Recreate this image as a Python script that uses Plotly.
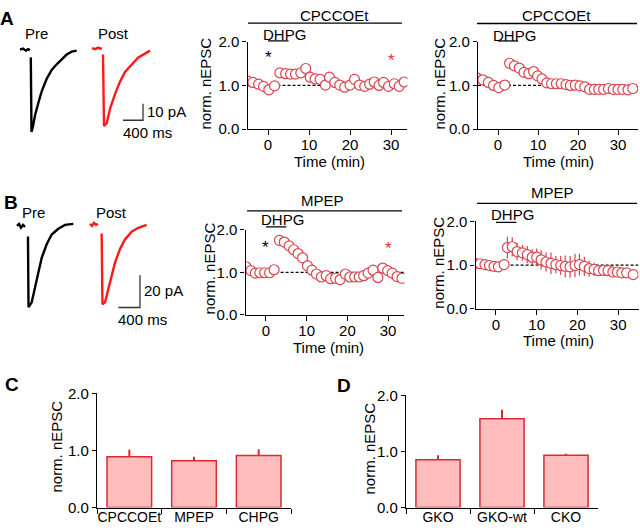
import plotly.graph_objects as go

W, H = 640, 532
def px(x): return x / W
def py(y): return 1 - y / H

FONT = "Arial"
FS = 15
RED_C = "#D9444E"
RED_T = "#FF1A1A"
RED_B = "#DC2A30"
FILL_B = "#FFBDBD"

# ---------------- data ----------------
# Example EPSC traces (time in ms, current in pA); None separates baseline from response
a_pre_t = [0, 60, 120, 160, 200, None, 216, 230, 260, 300, 366, 434, 534, 634, 734, 834, 934, 1034, 1134]
a_pre_i = [0, 0.6, -0.6, 0.3, -0.3, None, -4.7, -50.2, -46.6, -40.1, -32.5, -25.4, -17.7, -12.4, -8.9, -5.9, -3.0, -1.2, -0.6]
a_post_t = [0, 60, 120, 160, 200, None, 220, 240, 294, 360, 460, 560, 660, 794, 926, 1060, 1160]
a_post_i = [0.9, 0.3, 1.2, 0.6, 0.9, None, -3.0, -46.5, -44.8, -36.0, -27.1, -19.5, -13.6, -8.9, -4.7, -2.4, -0.6]
b_pre_t = [0, 37, 74, 111, 148, None, 203, 213, 272, 333, 394, 457, 549, 642, 764, 888, 1042]
b_pre_i = [0.6, 1.8, -0.6, 1.2, 0, None, -6.0, -49.8, -46.8, -37.2, -27.0, -19.2, -10.8, -4.8, -1.2, 1.2, 1.8]
b_post_t = [0, 37, 74, 111, 148, None, 216, 231, 278, 339, 401, 463, 555, 648, 771, 894, 1048]
b_post_i = [1.8, 0.6, 2.4, 1.2, 1.8, None, -4.2, -48.0, -46.8, -39.0, -30.0, -22.2, -13.8, -7.8, -3.0, -0.6, 1.2]

# A: CPCCOEt, single cell
a1_t = [-4.9, -3.7, -2.3, -1.1, 0.2, 1.6, 2.9, 4.3, 5.5, 6.7, 8.0, 9.2, 10.3, 11.5, 12.7, 14.0,
        15.0, 16.3, 17.5, 18.7, 20.0, 21.1, 22.3, 23.6, 24.8, 25.9, 27.1, 28.2, 29.4, 30.8, 32.0, 33.2]
a1_y = [1.10, 1.07, 1.03, 0.98, 0.90, 0.99, 1.29, 1.27, 1.26, 1.26, 1.29, 1.39, 1.19, 1.15, 1.14, 1.01,
        1.19, 1.07, 1.01, 0.96, 1.01, 1.14, 1.01, 0.98, 1.03, 1.08, 1.00, 1.07, 0.98, 1.04, 0.98, 1.08]
# A: CPCCOEt, average
a2_t = [-5.3, -3.8, -2.4, -1.1, 0.2, 1.7, 2.9, 4.1, 5.3, 6.5, 7.7, 8.9, 9.9, 11.0, 12.2, 13.4, 14.6,
        15.8, 17.0, 18.1, 19.3, 20.5, 21.7, 22.9, 24.1, 25.2, 26.4, 27.6, 28.8, 30.0, 31.2, 32.5, 33.7]
a2_y = [1.17, 1.13, 1.07, 1.00, 0.95, 1.01, 1.51, 1.45, 1.40, 1.30, 1.27, 1.32, 1.22, 1.15, 1.06, 1.04, 1.04,
        1.04, 1.02, 1.00, 1.01, 0.99, 0.97, 0.91, 0.91, 0.91, 0.91, 0.93, 0.91, 0.91, 0.91, 0.90, 0.93]
# B: MPEP, single cell
b1_t = [-4.9, -3.7, -2.6, -1.5, -0.3, 0.9, 2.0, 3.3, 4.5, 5.7, 6.8, 7.9, 9.0, 10.2, 11.3, 12.4, 13.6,
        14.8, 15.9, 17.1, 18.2, 19.5, 20.6, 21.8, 22.9, 24.0, 25.1, 26.3, 27.5, 28.7, 29.9, 31.0, 32.2, 33.4]
b1_y = [1.13, 1.04, 0.98, 0.99, 0.99, 0.99, 1.06, 1.75, 1.71, 1.62, 1.53, 1.44, 1.34, 1.15, 1.05, 0.96, 0.89,
        0.92, 0.85, 0.86, 0.83, 0.96, 0.89, 0.89, 0.89, 0.92, 0.98, 1.05, 0.88, 1.10, 1.04, 0.98, 0.90, 0.86]
# B: MPEP, average +/- SEM
b2_t = [-5.2, -3.9, -2.7, -1.6, -0.5, 0.6, 2.0, 2.8, 4.0, 5.2, 6.5, 7.7, 8.9, 10.0, 11.1, 12.3, 13.5, 14.7,
        15.9, 17.0, 18.2, 19.4, 20.5, 21.7, 22.9, 24.1, 25.2, 26.4, 27.5, 28.7, 29.8, 30.9, 32.1, 33.7]
b2_y = [1.04, 1.03, 1.01, 0.99, 0.97, 0.96, 1.01, 1.40, 1.42, 1.31, 1.28, 1.24, 1.18, 1.18, 1.12, 1.07, 1.04, 1.01,
        0.99, 0.97, 0.96, 0.99, 1.01, 0.97, 0.92, 0.90, 0.87, 0.88, 0.87, 0.84, 0.84, 0.82, 0.82, 0.78]
b2_e = [0.04, 0.03, 0.03, 0.03, 0.03, 0.03, 0.04, 0.25, 0.22, 0.20, 0.18, 0.20, 0.18, 0.20, 0.22, 0.22, 0.25, 0.20,
        0.22, 0.25, 0.25, 0.27, 0.25, 0.22, 0.18, 0.15, 0.12, 0.12, 0.10, 0.12, 0.10, 0.08, 0.08, 0.06]

# C / D bar summaries
c_cats = ["CPCCOEt", "MPEP", "CHPG"]
c_vals = [0.89, 0.82, 0.91]
c_errs = [0.12, 0.07, 0.11]
d_cats = ["GKO", "GKO-wt", "CKO"]
d_vals = [0.85, 1.58, 0.93]
d_errs = [0.08, 0.16, 0.03]

y_ticks = [0, 1, 2]
y_ticktext = ["0.0", "1.0", "2.0"]
t_ticks = [0, 10, 20, 30]

# ---------------- figure ----------------
fig = go.Figure()

def shift(ts, off):
    return [None if v is None else v + off for v in ts]

A_POST_OFF = 1440
B_POST_OFF = 1350

fig.add_trace(go.Scatter(x=a_pre_t, y=a_pre_i, xaxis="x7", yaxis="y7", mode="lines",
                         line=dict(color="black", width=2.4), connectgaps=False))
fig.add_trace(go.Scatter(x=shift(a_post_t, A_POST_OFF), y=a_post_i, xaxis="x7", yaxis="y7", mode="lines",
                         line=dict(color=RED_T, width=2.4), connectgaps=False))
fig.add_trace(go.Scatter(x=[2060, 2460, 2460], y=[-43, -43, -33], xaxis="x7", yaxis="y7", mode="lines",
                         line=dict(color="#333", width=1.3)))
fig.add_trace(go.Scatter(x=b_pre_t, y=b_pre_i, xaxis="x8", yaxis="y8", mode="lines",
                         line=dict(color="black", width=2.4), connectgaps=False))
fig.add_trace(go.Scatter(x=shift(b_post_t, B_POST_OFF), y=b_post_i, xaxis="x8", yaxis="y8", mode="lines",
                         line=dict(color=RED_T, width=2.4), connectgaps=False))
fig.add_trace(go.Scatter(x=[1875, 2275, 2275], y=[-50, -50, -30], xaxis="x8", yaxis="y8", mode="lines",
                         line=dict(color="#333", width=1.3)))

marker = dict(symbol="circle", size=10, color="white", line=dict(color=RED_C, width=1.2))
for (xa, ya, xr), (tt, yy) in zip(
        [("x", "y", 34), ("x2", "y2", 35), ("x3", "y3", 34), ("x4", "y4", 35)],
        [(a1_t, a1_y), (a2_t, a2_y), (b1_t, b1_y), (b2_t, b2_y)]):
    fig.add_trace(go.Scatter(x=[-5, xr], y=[1, 1], xaxis=xa, yaxis=ya, mode="lines",
                             line=dict(color="black", width=1.2, dash="3px,2px")))
    kw = {}
    if xa == "x4":
        kw["error_y"] = dict(type="data", array=b2_e, color=RED_C, thickness=1.2, width=0)
    fig.add_trace(go.Scatter(x=tt, y=yy, xaxis=xa, yaxis=ya, mode="markers", marker=marker, **kw))

fig.add_trace(go.Bar(x=c_cats, y=c_vals, xaxis="x5", yaxis="y5", width=0.69,
                     marker=dict(color=FILL_B, line=dict(color=RED_B, width=1.5)),
                     error_y=dict(type="data", array=c_errs, arrayminus=[0, 0, 0], symmetric=False,
                                  color=RED_B, thickness=2, width=0)))
fig.add_trace(go.Bar(x=d_cats, y=d_vals, xaxis="x6", yaxis="y6", width=0.69,
                     marker=dict(color=FILL_B, line=dict(color=RED_B, width=1.5)),
                     error_y=dict(type="data", array=d_errs, arrayminus=[0, 0, 0], symmetric=False,
                                  color=RED_B, thickness=2, width=0)))

axbase = dict(showline=True, linecolor="black", linewidth=1.3, ticks="outside", tickcolor="black",
              tickwidth=1.3, showgrid=False, zeroline=False, tickfont=dict(size=FS, color="black", family=FONT))
def tx(dom, rng):
    d = dict(axbase); d.update(domain=[px(dom[0]), px(dom[1])], range=rng, tickvals=t_ticks, ticklen=5,
                               ticklabelstandoff=-3)
    return d
def ty(dom, anchor):
    d = dict(axbase); d.update(domain=[py(dom[1]), py(dom[0])], range=[0, 2], tickvals=y_ticks,
                               ticktext=y_ticktext, ticklen=4, anchor=anchor)
    return d
def bx(dom):
    d = dict(axbase); d.update(domain=[px(dom[0]), px(dom[1])], range=[-0.5, 2.5], type="category",
                               tickson="boundaries", ticklen=5, tickangle=0, ticklabelstandoff=-3,
                               tickfont=dict(size=FS - 1, color="black", family=FONT))
    return d

hidden = dict(visible=False, showgrid=False, zeroline=False)

fig.update_layout(
    width=W, height=H, margin=dict(l=0, r=0, t=0, b=0),
    paper_bgcolor="white", plot_bgcolor="rgba(0,0,0,0)", showlegend=False,
    font=dict(family=FONT, size=FS, color="black"),
    xaxis=dict(tx((247.5, 407.4), [-5, 34]), anchor="y"),
    yaxis=ty((34, 124), "x"),
    xaxis2=dict(tx((478, 638), [-5, 35]), anchor="y2"),
    yaxis2=ty((34, 124), "x2"),
    xaxis3=dict(tx((245.6, 404.4), [-5, 34]), anchor="y3"),
    yaxis3=ty((228, 316), "x3"),
    xaxis4=dict(tx((475.6, 638.5), [-5, 35]), anchor="y4"),
    yaxis4=ty((219.5, 309.5), "x4"),
    xaxis5=dict(bx((97, 291)), anchor="y5"),
    yaxis5=ty((397, 515), "x5"),
    xaxis6=dict(bx((406, 598)), anchor="y6"),
    yaxis6=ty((399, 515), "x6"),
    xaxis7=dict(hidden, domain=[px(10), px(160)], range=[-200, 2800], anchor="y7"),
    yaxis7=dict(hidden, domain=[py(140), py(30)], range=[-57.8, 7.08], anchor="x7"),
    xaxis8=dict(hidden, domain=[px(10), px(160)], range=[-129.5, 2645.5], anchor="y8"),
    yaxis8=dict(hidden, domain=[py(330), py(195)], range=[-63, 18], anchor="x8"),
)

ann = []
def A(x, y, text, size=FS, color="black", xanchor="center", angle=0, bold=False, **kw):
    t = f"<b>{text}</b>" if bold else text
    d = dict(x=px(x), y=py(y), xref="paper", yref="paper", text=t, showarrow=False,
             font=dict(size=size, color=color, family=FONT), xanchor=xanchor, yanchor="middle",
             textangle=angle)
    d.update(kw)
    ann.append(d)

# panel letters
A(7, 10, "A", 19, bold=True); A(11, 200, "B", 19, bold=True)
A(12, 388, "C", 19, bold=True); A(344, 389, "D", 19, bold=True)
# trace labels
A(36, 25, "Pre"); A(113.5, 25, "Post"); A(33.5, 210, "Pre"); A(111, 210, "Post")
A(145, 106, "10 pA", xanchor="left"); A(121, 128, "400 ms", xanchor="left")
A(142, 291, "20 pA", xanchor="left"); A(116, 321, "400 ms", xanchor="left")
# condition titles
A(334, 6.5, "CPCCOEt"); A(556, 6.5, "CPCCOEt"); A(322, 198, "MPEP"); A(552, 190, "MPEP")
# y titles
for x, y in [(206, 77), (440, 77), (209, 268), (439, 262), (57, 452), (369, 454)]:
    A(x, y, "norm. nEPSC", angle=-90)
# x titles
for x, y in [(329, 158), (558, 158), (328, 350), (558, 342)]:
    A(x, y, "Time (min)")
# DHPG labels (x in minutes)
for xa, y in [("x", 26.7), ("x2", 27), ("x3", 217), ("x4", 212)]:
    ann.append(dict(x=4, y=py(y), xref=xa, yref="paper", text="DHPG", showarrow=False,
                    font=dict(size=FS, family=FONT, color="black"), xanchor="center", yanchor="middle"))
# asterisks
for xa, ya, x, y, c in [("x", "y", 0, 1.64, "black"), ("x", "y", 30, 1.58, "#E8323C"),
                        ("x3", "y3", 0, 1.59, "black"), ("x3", "y3", 30, 1.55, "#E8323C")]:
    ann.append(dict(x=x, y=y, xref=xa, yref=ya, text="*", showarrow=False,
                    font=dict(size=17, family=FONT, color=c), xanchor="center", yanchor="middle"))
fig.update_layout(annotations=ann)

shapes = []
for x0, x1, y in [(248, 402, 14.5), (477, 637, 15), (247, 402, 208.5), (477, 637, 200.7)]:
    shapes.append(dict(type="line", xref="paper", yref="paper", x0=px(x0), x1=px(x1), y0=py(y), y1=py(y),
                       line=dict(color="black", width=1.3)))
for xa, y in [("x", 33), ("x2", 33), ("x3", 225), ("x4", 220.5)]:
    shapes.append(dict(type="line", xref=xa, yref="paper", x0=0, x1=5, y0=py(y), y1=py(y),
                       line=dict(color="black", width=1.3)))
fig.update_layout(shapes=shapes)

fig.write_html("out.html", config={"displayModeBar": False},
               post_script="document.body.style.margin='0';document.body.style.overflow='hidden';")
